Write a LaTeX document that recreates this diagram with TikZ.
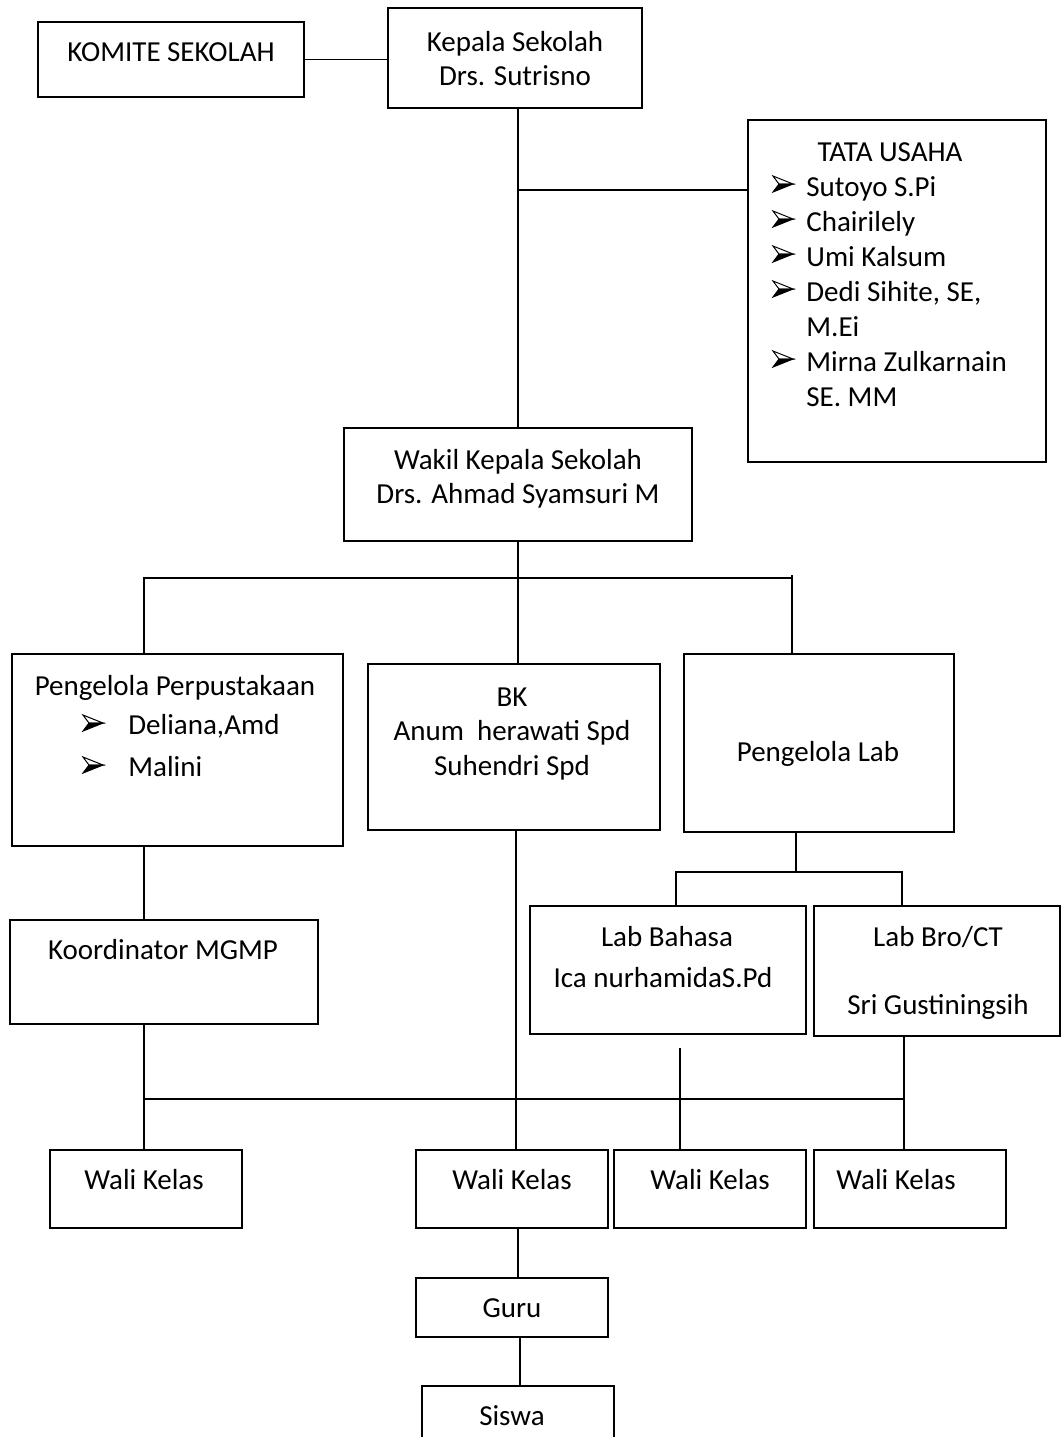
\documentclass[tikz,border=0pt]{standalone}
\usepackage{fontspec}
\setmainfont{Carlito}
\begin{document}
\begin{tikzpicture}[x=0.5pt,y=-0.5pt,
  bx/.style={draw,line width=0.8pt,inner sep=0pt,outer sep=0pt},
  tx/.style={anchor=base,inner sep=0pt,font=\fontsize{14.5}{17.5}\selectfont},
  tl/.style={anchor=base west,inner sep=0pt,font=\fontsize{14.5}{17.5}\selectfont},
  ln/.style={line width=0.8pt},
  abul/.pic={
    \draw[line width=0.5pt,line join=miter] (0,-8) -- (20,0) -- (6,0) -- cycle;
    \filldraw[line width=0.5pt,line join=miter] (0,8) -- (20,0) -- (6,0) -- cycle;
  }]
\clip (0,0) rectangle (1062,1437);
\fill[white] (0,0) rectangle (1062,1437);
\newcommand\obox[5]{\node[bx,minimum width={(#4-#2)*0.5pt},minimum height={(#5-#3)*0.5pt}] (#1) at ({(#2+#4)/2},{(#3+#5)/2}) {};}
% boxes
\obox{komite}{38}{22}{304}{97}
\obox{kepala}{388}{8}{642}{108}
\obox{tata}{748}{120}{1046}{462}
\obox{wakil}{344}{428}{692}{541}
\obox{perp}{12}{654}{343}{846}
\obox{bk}{368}{664}{660}{830}
\obox{lab}{684}{654}{954}{832}
\obox{koord}{10}{920}{318}{1024}
\obox{labb}{530}{906}{806}{1034}
\obox{labc}{814}{906}{1060}{1036}
\obox{walia}{50}{1150}{242}{1228}
\obox{walib}{416}{1150}{608}{1228}
\obox{walic}{614}{1150}{806}{1228}
\obox{walid}{814}{1150}{1006}{1228}
\obox{guru}{416}{1278}{608}{1337}
\obox{siswa}{422}{1386}{614}{1480}
% texts
\node[tx] (t1) at (171,61) {KOMITE SEKOLAH};
\node[tx] (t2) at (515,51) {Kepala Sekolah};
\node[tx] (t3) at (515,85) {Drs. Sutrisno};
\node[tx] (t4) at (890,161) {TATA USAHA};
\pic (b1) at (773,184) {abul};
\node[tl] (t5) at (806,196) {Sutoyo S.Pi};
\pic (b2) at (773,219) {abul};
\node[tl] (t6) at (806,231) {Chairilely};
\pic (b3) at (773,254) {abul};
\node[tl] (t7) at (806,266) {Umi Kalsum};
\pic (b4) at (773,289) {abul};
\node[tl] (t8) at (806,301) {Dedi Sihite, SE,};
\node[tl] (t9) at (806,336) {M.Ei};
\pic (b5) at (773,359) {abul};
\node[tl] (t10) at (806,371) {Mirna Zulkarnain};
\node[tl] (t11) at (806,406) {SE. MM};
\node[tx] (t12) at (518,469) {Wakil Kepala Sekolah};
\node[tx] (t13) at (518,503) {Drs. Ahmad Syamsuri M};
\node[tx] (t14) at (175,695) {Pengelola Perpustakaan};
\pic (b6) at (83,723) {abul};
\node[tl] (t15) at (128,734) {Deliana,Amd};
\pic (b7) at (83,765) {abul};
\node[tl] (t16) at (128,776) {Malini};
\node[tx] (t17) at (512,706) {BK};
\node[tx] (t18) at (512,740) {Anum\ \ herawati Spd};
\node[tx] (t19) at (512,775) {Suhendri Spd};
\node[tx] (t20) at (818,761) {Pengelola Lab};
\node[tx] (t21) at (163,959) {Koordinator MGMP};
\node[tx] (t22) at (667,946) {Lab Bahasa};
\node[tx] (t23) at (663,987) {Ica nurhamidaS.Pd};
\node[tx] (t24) at (938,946) {Lab Bro/CT};
\node[tx] (t25) at (938,1014) {Sri Gustiningsih};
\node[tx] (t26) at (144,1189) {Wali Kelas};
\node[tx] (t27) at (512,1189) {Wali Kelas};
\node[tx] (t28) at (710,1189) {Wali Kelas};
\node[tx] (t29) at (896,1189) {Wali Kelas};
\node[tx] (t30) at (512,1317) {Guru};
\node[tx] (t31) at (512,1425) {Siswa};
% junction coordinates
\coordinate (j1) at (518,190);
\coordinate (j2) at (518,578);
\coordinate (bL) at (144,578);
\coordinate (bR) at (792,578);
\coordinate (bRt) at (792,575);
\coordinate (bkx) at (516,1099);
\coordinate (l1) at (796,872);
\coordinate (l0) at (676,872);
\coordinate (l2) at (902,872);
\coordinate (g3) at (680,1048);
\coordinate (h1) at (144,1099);
\coordinate (h4) at (904,1099);
\coordinate (gx) at (518,1300);
\coordinate (sx) at (520,1360);
% connectors
\draw[ln] (komite.east) -- (kepala.west |- komite.east);
\draw[ln] (kepala.south -| j1) -- (wakil.north -| j1);
\draw[ln] (j1) -- (tata.west |- j1);
\draw[ln] (wakil.south -| j2) -- (bk.north -| j2);
\draw[ln] (perp.north -| bL) -- (bL) -- (bR);
\draw[ln] (bRt) -- (lab.north -| bRt);
\draw[ln] (perp.south -| bL) -- (koord.north -| bL);
\draw[ln] (koord.south -| h1) -- (walia.north -| h1);
\draw[ln] (h1) -- (h4);
\draw[ln] (bk.south -| bkx) -- (walib.north -| bkx);
\draw[ln] (lab.south -| l1) -- (l1);
\draw[ln] (labb.north -| l0) -- (l0) -- (l2) -- (labc.north -| l2);
\draw[ln] (g3) -- (walic.north -| g3);
\draw[ln] (labc.south -| h4) -- (walid.north -| h4);
\draw[ln] (walib.south -| gx) -- (guru.north -| gx);
\draw[ln] (guru.south -| sx) -- (siswa.north -| sx);
\end{tikzpicture}
\end{document}
